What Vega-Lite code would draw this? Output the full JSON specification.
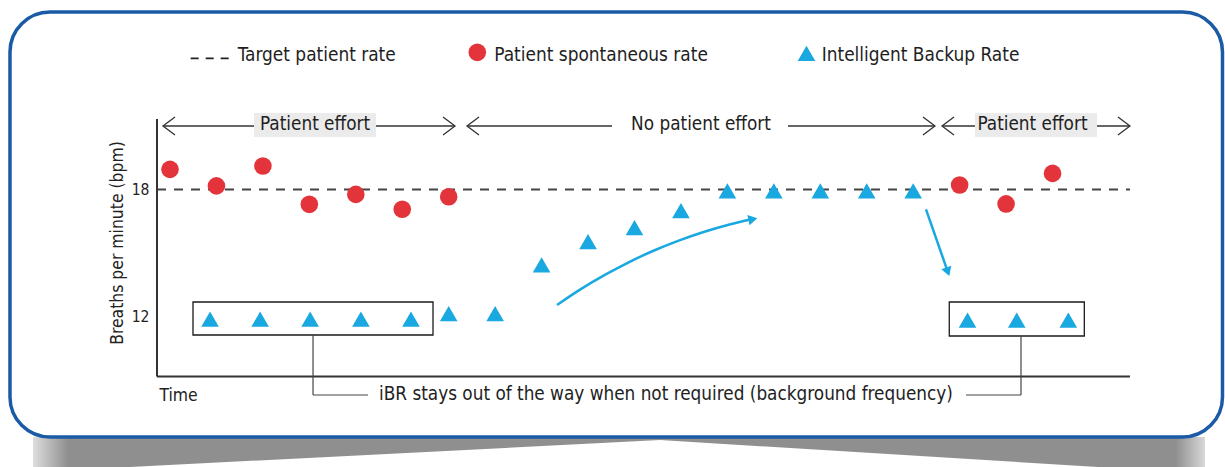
{
  "$schema": "https://vega.github.io/schema/vega-lite/v6.json",
  "width": 1225,
  "height": 467,
  "autosize": {"type": "fit", "contains": "padding"},
  "padding": 0,
  "background": "white",
  "config": {
    "view": {"stroke": null},
    "font": "DejaVu Sans Condensed, sans-serif"
  },
  "datasets": {
    "shadow": [
      {"t": -2.949, "v": 6.325, "v2": 4.91},
      {"t": -0.861, "v": 6.325, "v2": 4.91},
      {"t": 10.549, "v": 6.325, "v2": 6.184},
      {"t": 19.978, "v": 6.325, "v2": 4.91},
      {"t": 22.282, "v": 6.325, "v2": 4.91}
    ],
    "frame": [{"t": -3.445, "t2": 22.659, "v": 26.373, "v2": 6.325}],
    "spans": [
      {"t": -0.151, "t2": 6.136, "v": 20.995, "v2": 20.995},
      {"t": 6.394, "t2": 16.469, "v": 20.995, "v2": 20.995},
      {"t": 16.62, "t2": 20.667, "v": 20.995, "v2": 20.995}
    ],
    "tags": [
      {"t": 1.808, "t2": 4.435, "v": 21.608, "v2": 20.476},
      {"t": 17.33, "t2": 19.957, "v": 21.608, "v2": 20.476}
    ],
    "gap": [{"t": 9.516, "t2": 13.305, "v": 21.608, "v2": 20.476}],
    "heads": [
      {"t": -0.151, "v": 20.995, "dir": "left"},
      {"t": 6.136, "v": 20.995, "dir": "right"},
      {"t": 6.394, "v": 20.995, "dir": "left"},
      {"t": 16.469, "v": 20.995, "dir": "right"},
      {"t": 16.62, "v": 20.995, "dir": "left"},
      {"t": 20.667, "v": 20.995, "dir": "right"}
    ],
    "target": [{"t": -0.28, "t2": 20.667, "v": 18, "v2": 18}],
    "axislines": [
      {"t": -0.28, "t2": -0.28, "v": 21.325, "v2": 9.179},
      {"t": -0.28, "t2": 20.667, "v": 9.179, "v2": 9.179}
    ],
    "boxes": [
      {"t": 0.495, "t2": 5.662, "v": 12.693, "v2": 11.137},
      {"t": 16.777, "t2": 19.684, "v": 12.693, "v2": 11.09}
    ],
    "connectors": [
      {"t": 3.079, "t2": 3.079, "v": 11.137, "v2": 8.307},
      {"t": 3.079, "t2": 4.263, "v": 8.307, "v2": 8.307},
      {"t": 18.321, "t2": 18.321, "v": 11.09, "v2": 8.307},
      {"t": 17.137, "t2": 18.321, "v": 8.307, "v2": 8.307}
    ],
    "curve": [
      {"t": 8.332, "v": 12.552},
      {"t": 8.835, "v": 13.288},
      {"t": 9.352, "v": 13.958},
      {"t": 9.875, "v": 14.566},
      {"t": 10.409, "v": 15.111},
      {"t": 10.952, "v": 15.59},
      {"t": 11.505, "v": 16.009},
      {"t": 12.067, "v": 16.363},
      {"t": 12.54, "v": 16.608}
    ],
    "fall": [{"t": 16.276, "t2": 16.745, "v": 17.066, "v2": 14.118}],
    "tips": [
      {"t": 12.549, "v": 16.599, "dir": "rise"},
      {"t": 16.745, "v": 14.118, "dir": "fall"}
    ],
    "points": [
      {"t": 0, "v": 18.95, "series": "Patient spontaneous rate"},
      {"t": 1, "v": 18.17, "series": "Patient spontaneous rate"},
      {"t": 2, "v": 19.11, "series": "Patient spontaneous rate"},
      {"t": 3, "v": 17.3, "series": "Patient spontaneous rate"},
      {"t": 4, "v": 17.77, "series": "Patient spontaneous rate"},
      {"t": 5, "v": 17.07, "series": "Patient spontaneous rate"},
      {"t": 6, "v": 17.66, "series": "Patient spontaneous rate"},
      {"t": 17, "v": 18.21, "series": "Patient spontaneous rate"},
      {"t": 18, "v": 17.32, "series": "Patient spontaneous rate"},
      {"t": 19, "v": 18.76, "series": "Patient spontaneous rate"},
      {"t": 0.862, "v": 11.88, "series": "Intelligent Backup Rate"},
      {"t": 1.94, "v": 11.88, "series": "Intelligent Backup Rate"},
      {"t": 3.017, "v": 11.88, "series": "Intelligent Backup Rate"},
      {"t": 4.11, "v": 11.88, "series": "Intelligent Backup Rate"},
      {"t": 5.188, "v": 11.88, "series": "Intelligent Backup Rate"},
      {"t": 6, "v": 12.15, "series": "Intelligent Backup Rate"},
      {"t": 7, "v": 12.15, "series": "Intelligent Backup Rate"},
      {"t": 8, "v": 14.45, "series": "Intelligent Backup Rate"},
      {"t": 9, "v": 15.54, "series": "Intelligent Backup Rate"},
      {"t": 10, "v": 16.2, "series": "Intelligent Backup Rate"},
      {"t": 11, "v": 17.0, "series": "Intelligent Backup Rate"},
      {"t": 12, "v": 17.93, "series": "Intelligent Backup Rate"},
      {"t": 13, "v": 17.93, "series": "Intelligent Backup Rate"},
      {"t": 14, "v": 17.93, "series": "Intelligent Backup Rate"},
      {"t": 15, "v": 17.93, "series": "Intelligent Backup Rate"},
      {"t": 16, "v": 17.93, "series": "Intelligent Backup Rate"},
      {"t": 17.17, "v": 11.84, "series": "Intelligent Backup Rate"},
      {"t": 18.23, "v": 11.84, "series": "Intelligent Backup Rate"},
      {"t": 19.34, "v": 11.84, "series": "Intelligent Backup Rate"}
    ],
    "key": [
      {"t": 6.616, "v": 24.47, "series": "Patient spontaneous rate"},
      {"t": 13.703, "v": 24.42, "series": "Intelligent Backup Rate"}
    ],
    "keydash": [{"t": 0.445, "t2": 1.292, "v": 24.19, "v2": 24.19}],
    "keytext": [
      {"t": 1.458, "v": 24.061, "label": "Target patient rate"},
      {"t": 6.982, "v": 24.061, "label": "Patient spontaneous rate"},
      {"t": 14.03, "v": 24.061, "label": "Intelligent Backup Rate"}
    ],
    "notes": [
      {"t": 3.122, "v": 20.83, "label": "Patient effort"},
      {"t": 11.432, "v": 20.83, "label": "No patient effort"},
      {"t": 18.568, "v": 20.83, "label": "Patient effort"},
      {"t": 10.678, "v": 8.071, "label": "iBR stays out of the way when not required (background frequency)"}
    ]
  },
  "encoding": {
    "x": {
      "field": "t",
      "type": "quantitative",
      "scale": {"domain": [-3.66, 22.713], "nice": false, "zero": false},
      "axis": {
        "orient": "bottom",
        "offset": -90.5,
        "domain": false,
        "ticks": false,
        "labels": false,
        "grid": false,
        "zindex": 1,
        "title": "Time",
        "titleX": 159,
        "titleY": 23.5,
        "titleAlign": "left",
        "titleBaseline": "alphabetic",
        "titleFontSize": 17.4,
        "titleFontWeight": "normal",
        "titleColor": "#222222"
      }
    },
    "y": {
      "field": "v",
      "type": "quantitative",
      "scale": {"domain": [4.91, 26.939], "nice": false, "zero": false},
      "axis": {
        "orient": "left",
        "offset": -157,
        "values": [12, 18],
        "domain": false,
        "ticks": false,
        "tickSize": 0,
        "grid": false,
        "zindex": 1,
        "labelPadding": 8,
        "labelFontSize": 15.5,
        "labelColor": "#222222",
        "labelFlush": false,
        "title": "Breaths per minute (bpm)",
        "titleX": -40,
        "titleY": 242.5,
        "titleAngle": 270,
        "titleAlign": "center",
        "titleBaseline": "middle",
        "titleFontSize": 17.4,
        "titleFontWeight": "normal",
        "titleColor": "#222222"
      }
    }
  },
  "layer": [
    {
      "data": {"name": "shadow"},
      "mark": {
        "type": "area",
        "color": {
          "gradient": "linear",
          "x1": 0, "x2": 1, "y1": 0, "y2": 0,
          "stops": [
            {"offset": 0, "color": "#dedede"},
            {"offset": 0.03, "color": "#8f8f8f"},
            {"offset": 0.975, "color": "#8f8f8f"},
            {"offset": 1, "color": "#d8d8d8"}
          ]
        }
      },
      "encoding": {"y2": {"field": "v2"}}
    },
    {
      "data": {"name": "frame"},
      "mark": {"type": "rect", "fill": "white", "stroke": "#1b5ba6", "strokeWidth": 3.5, "cornerRadius": 40},
      "encoding": {"x2": {"field": "t2"}, "y2": {"field": "v2"}}
    },
    {
      "data": {"name": "spans"},
      "mark": {"type": "rule", "stroke": "#333333", "strokeWidth": 1.3},
      "encoding": {"x2": {"field": "t2"}, "y2": {"field": "v2"}}
    },
    {
      "data": {"name": "tags"},
      "mark": {"type": "rect", "fill": "#ebebeb"},
      "encoding": {"x2": {"field": "t2"}, "y2": {"field": "v2"}}
    },
    {
      "data": {"name": "gap"},
      "mark": {"type": "rect", "fill": "white"},
      "encoding": {"x2": {"field": "t2"}, "y2": {"field": "v2"}}
    },
    {
      "data": {"name": "heads"},
      "transform": [{"filter": "datum.dir === 'left'"}],
      "mark": {"type": "point", "shape": "M2.4,-1.8L0,0L2.4,1.8", "filled": false, "stroke": "#333333", "strokeWidth": 1.3, "size": 100, "opacity": 1},
      "encoding": {}
    },
    {
      "data": {"name": "heads"},
      "transform": [{"filter": "datum.dir === 'right'"}],
      "mark": {"type": "point", "shape": "M-2.4,-1.8L0,0L-2.4,1.8", "filled": false, "stroke": "#333333", "strokeWidth": 1.3, "size": 100, "opacity": 1},
      "encoding": {}
    },
    {
      "data": {"name": "target"},
      "mark": {"type": "rule", "stroke": "#444444", "strokeWidth": 2, "strokeDash": [9, 8]},
      "encoding": {"x2": {"field": "t2"}, "y2": {"field": "v2"}}
    },
    {
      "data": {"name": "axislines"},
      "mark": {"type": "rule", "stroke": "#333333", "strokeWidth": 2},
      "encoding": {"x2": {"field": "t2"}, "y2": {"field": "v2"}}
    },
    {
      "data": {"name": "boxes"},
      "mark": {"type": "rect", "filled": false, "stroke": "#1a1a1a", "strokeWidth": 1.3},
      "encoding": {"x2": {"field": "t2"}, "y2": {"field": "v2"}}
    },
    {
      "data": {"name": "connectors"},
      "mark": {"type": "rule", "stroke": "#444444", "strokeWidth": 1.2},
      "encoding": {"x2": {"field": "t2"}, "y2": {"field": "v2"}}
    },
    {
      "data": {"name": "curve"},
      "mark": {"type": "line", "stroke": "#19a8e0", "strokeWidth": 2.5, "interpolate": "monotone"},
      "encoding": {}
    },
    {
      "data": {"name": "fall"},
      "mark": {"type": "rule", "stroke": "#19a8e0", "strokeWidth": 2.5},
      "encoding": {"x2": {"field": "t2"}, "y2": {"field": "v2"}}
    },
    {
      "data": {"name": "tips"},
      "transform": [{"filter": "datum.dir === 'rise'"}],
      "mark": {"type": "point", "shape": "triangle-right", "filled": true, "color": "#19a8e0", "size": 110, "angle": 348, "opacity": 1},
      "encoding": {}
    },
    {
      "data": {"name": "tips"},
      "transform": [{"filter": "datum.dir === 'fall'"}],
      "mark": {"type": "point", "shape": "triangle-right", "filled": true, "color": "#19a8e0", "size": 110, "angle": 70.7, "opacity": 1},
      "encoding": {}
    },
    {
      "data": {"name": "points"},
      "mark": {"type": "point", "filled": true, "size": 310, "opacity": 1},
      "encoding": {
        "color": {
          "field": "series",
          "type": "nominal",
          "scale": {"domain": ["Patient spontaneous rate", "Intelligent Backup Rate"], "range": ["#e3343b", "#19a8e0"]},
          "legend": null
        },
        "shape": {
          "field": "series",
          "type": "nominal",
          "scale": {"domain": ["Patient spontaneous rate", "Intelligent Backup Rate"], "range": ["circle", "triangle-up"]},
          "legend": null
        }
      }
    },
    {
      "data": {"name": "key"},
      "mark": {"type": "point", "filled": true, "size": 310, "opacity": 1},
      "encoding": {
        "color": {"field": "series", "type": "nominal", "legend": null},
        "shape": {"field": "series", "type": "nominal", "legend": null}
      }
    },
    {
      "data": {"name": "keydash"},
      "mark": {"type": "rule", "stroke": "#222222", "strokeWidth": 1.8, "strokeDash": [8, 7]},
      "encoding": {"x2": {"field": "t2"}, "y2": {"field": "v2"}}
    },
    {
      "data": {"name": "keytext"},
      "mark": {"type": "text", "align": "left", "baseline": "alphabetic", "fontSize": 18.9, "color": "#1e1e1e"},
      "encoding": {"text": {"field": "label"}}
    },
    {
      "data": {"name": "notes"},
      "mark": {"type": "text", "align": "center", "baseline": "alphabetic", "fontSize": 18.8, "color": "#1e1e1e"},
      "encoding": {"text": {"field": "label"}}
    }
  ]
}
